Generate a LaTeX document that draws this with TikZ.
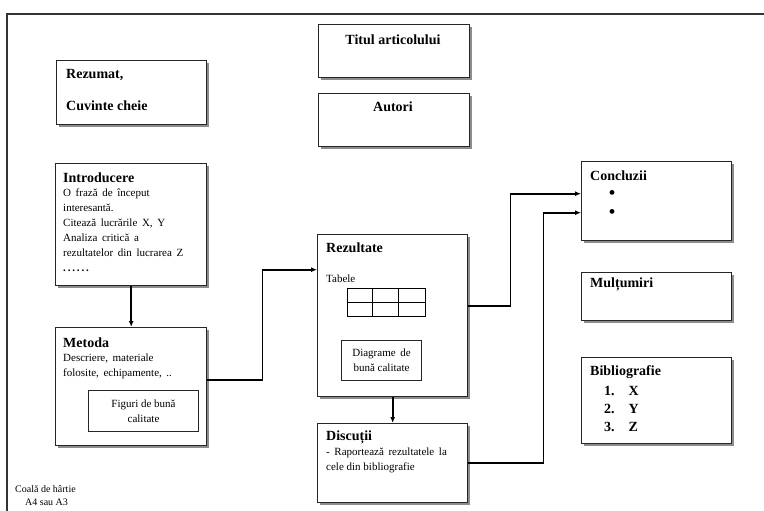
\documentclass[tikz,border=0pt]{standalone}
\usepackage{fontspec}
\setmainfont{Liberation Serif}
\usetikzlibrary{arrows.meta,shadows}
\newcommand\widesp{\spaceskip=4.6pt plus 1pt\relax}

\begin{document}
\begin{tikzpicture}[x=1pt,y=-1pt,>={Latex[length=6pt,width=5pt]},
    box/.style={draw=black!85,line width=1.4pt,fill=white,anchor=north west,
      drop shadow={shadow xshift=2.2pt,shadow yshift=-2.2pt,fill=black!45,opacity=1}},
    inbox/.style={draw=black!85,line width=1pt,anchor=north west},
    head/.style={font=\bfseries\fontsize{14}{16}\selectfont,inner sep=0pt,anchor=west},
    body/.style={font={\fontsize{11}{15}\selectfont},inner sep=0pt,align=left,anchor=north west},
    conn/.style={line width=1.6pt,->}]
  \useasboundingbox (0,0) rectangle (764,511);
  % sheet of paper
  \draw[black!80,line width=2.8pt] (764,14) -- (7,14) -- (7,511);
  % boxes
  \node[box,minimum width=151pt,minimum height=53pt] (titlu) at (318,24) {};
  \node[box,minimum width=151pt,minimum height=53pt] (autori) at (318,93) {};
  \node[box,minimum width=150pt,minimum height=64pt] (rezumat) at (56,60) {};
  \node[box,minimum width=151pt,minimum height=122pt] (intro) at (55,163) {};
  \node[box,minimum width=151pt,minimum height=118pt] (metoda) at (55,327) {};
  \node[box,minimum width=150pt,minimum height=162pt] (rezultate) at (317,234) {};
  \node[box,minimum width=150pt,minimum height=79pt] (discutii) at (317,423) {};
  \node[box,minimum width=150pt,minimum height=79pt] (concluzii) at (581,161) {};
  \node[box,minimum width=150pt,minimum height=48pt] (multumiri) at (581,272) {};
  \node[box,minimum width=150pt,minimum height=86pt] (biblio) at (581,357) {};
  % texts
  \node[head,anchor=center] (ttitlu) at (393,40) {Titul articolului};
  \node[head,anchor=center] (tautori) at (393,107) {Autori};
  \node[head] (trez) at (66,75) {Rezumat,};
  \node[head] (tcuv) at (66,106) {Cuvinte cheie};
  \node[head] (tintro) at (63,178) {Introducere};
  \node[body] (bintro) at (63,189) {\widesp O frază de început\\\widesp interesantă.\\\widesp Citează lucrările X, Y\\\widesp Analiza critică a\\\widesp rezultatelor din lucrarea Z\\\textbf{.\,.\,.\,.\,.\,.}};
  \node[head] (tmetoda) at (63,343) {Metoda};
  \node[body] (bmetoda) at (63,354) {\widesp Descriere, materiale\\\widesp folosite, echipamente, ..};
  \node[inbox,minimum width=110pt,minimum height=41pt] (figuri) at (88,390) {};
  \node[body,anchor=center,align=center] (tfiguri) at (figuri.center) {Figuri de bună\\calitate};
  \node[head] (trezultate) at (326,248) {Rezultate};
  \node[body,anchor=west] (ttabele) at (326,279) {Tabele};
  \draw[line width=1pt] (347,288) rectangle (425,316) (347,302) -- (425,302)
    (372,288) -- (372,316) (398,288) -- (398,316);
  \node[inbox,minimum width=80pt,minimum height=40pt] (diagrame) at (341,340) {};
  \node[body,anchor=center,align=center] (tdiagrame) at (diagrame.center) {\widesp Diagrame de\\bună calitate};
  \node[head] (tdiscutii) at (326,437) {Discuții};
  \node[body] (bdiscutii) at (326,448) {\widesp - Raportează rezultatele la\\cele din bibliografie};
  \node[head] (tconcluzii) at (590,176) {Concluzii};
  \node[font=\fontsize{20}{20}\selectfont,inner sep=0pt] (bul1) at (612,195) {•};
  \node[font=\fontsize{20}{20}\selectfont,inner sep=0pt] (bul2) at (612,214) {•};
  \node[head] (tmultumiri) at (590,284) {Mulțumiri};
  \node[head] (tbiblio) at (590,372) {Bibliografie};
  \node[head,align=left,anchor=north west,font=\bfseries\fontsize{14}{18}\selectfont] (lista) at (604,386) {1.\hspace{14pt}X\\2.\hspace{14pt}Y\\3.\hspace{14pt}Z};
  \node[body,font=\fontsize{10}{13}\selectfont] (foaie) at (15,485) {Coală de hârtie\\\hspace{10pt}A4 sau A3};
  % connectors
  \draw[conn] (intro.south) -- (metoda.north);
  \draw[conn] ([yshift=7pt]metoda.east) -- ++(55,0) |- ([yshift=46pt]rezultate.west);
  \draw[conn] (rezultate.south) -- (discutii.north);
  \draw[conn] ([yshift=10pt]rezultate.east) -- ++(42,0) |- ([yshift=7.5pt]concluzii.west);
  \draw[conn] (discutii.east) -- ++(75,0) |- ([yshift=-11.5pt]concluzii.west);
\end{tikzpicture}
\end{document}
